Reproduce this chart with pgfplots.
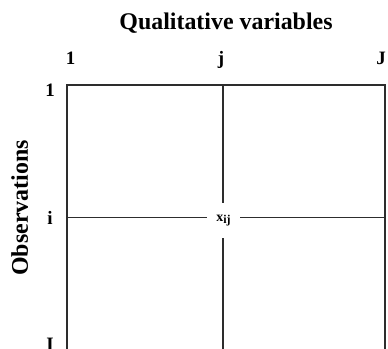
\documentclass[border=0pt]{standalone}
\usepackage{pgfplots}
\pgfplotsset{compat=1.18}
\usepackage{fontspec}
\setmainfont{Liberation Serif}
\definecolor{lineg}{RGB}{45,45,45}
\begin{document}
\begin{tikzpicture}[x=1bp,y=1bp]
\useasboundingbox (0,0) rectangle (388,349);
\begin{axis}[
  at={(67bp,264bp)}, anchor=north west,
  scale only axis, width=318bp, height=267bp,
  xmin=67, xmax=385, ymin=85, ymax=352, y dir=reverse,
  clip=false,
  axis line style={lineg, line width=1.4bp},
  major tick length=0pt,
  xtick={70.5,221,381}, xticklabels={1,j,J},
  xticklabel pos=upper,
  xticklabel style={anchor=base, yshift=21bp, font=\fontsize{19}{22}\selectfont\bfseries},
  ytick={90.5,217.5,344}, yticklabels={1,i,I},
  yticklabel style={anchor=center, xshift=-17bp, font=\fontsize{19}{22}\selectfont\bfseries},
  title={Qualitative variables},
  title style={at={(0.5,1)}, anchor=base, yshift=50bp, font=\fontsize{24}{28}\selectfont\bfseries},
  ylabel={Observations},
  ylabel style={at={(axis cs:28,208)}, anchor=base, font=\fontsize{24}{28}\selectfont\bfseries},
]
\addplot[lineg, line width=1.4bp] coordinates {(223,85) (223,352)};
\addplot[lineg, line width=1.4bp] coordinates {(67,217.5) (385,217.5)};
\node[fill=white, inner sep=0pt, minimum width=33bp, minimum height=35bp,
      font=\fontsize{14}{16}\selectfont\bfseries] at (axis cs:223.5,220.5)
      {x\raisebox{-1.5bp}{\fontsize{12}{14}\selectfont ij}};
\end{axis}
\end{tikzpicture}
\end{document}
